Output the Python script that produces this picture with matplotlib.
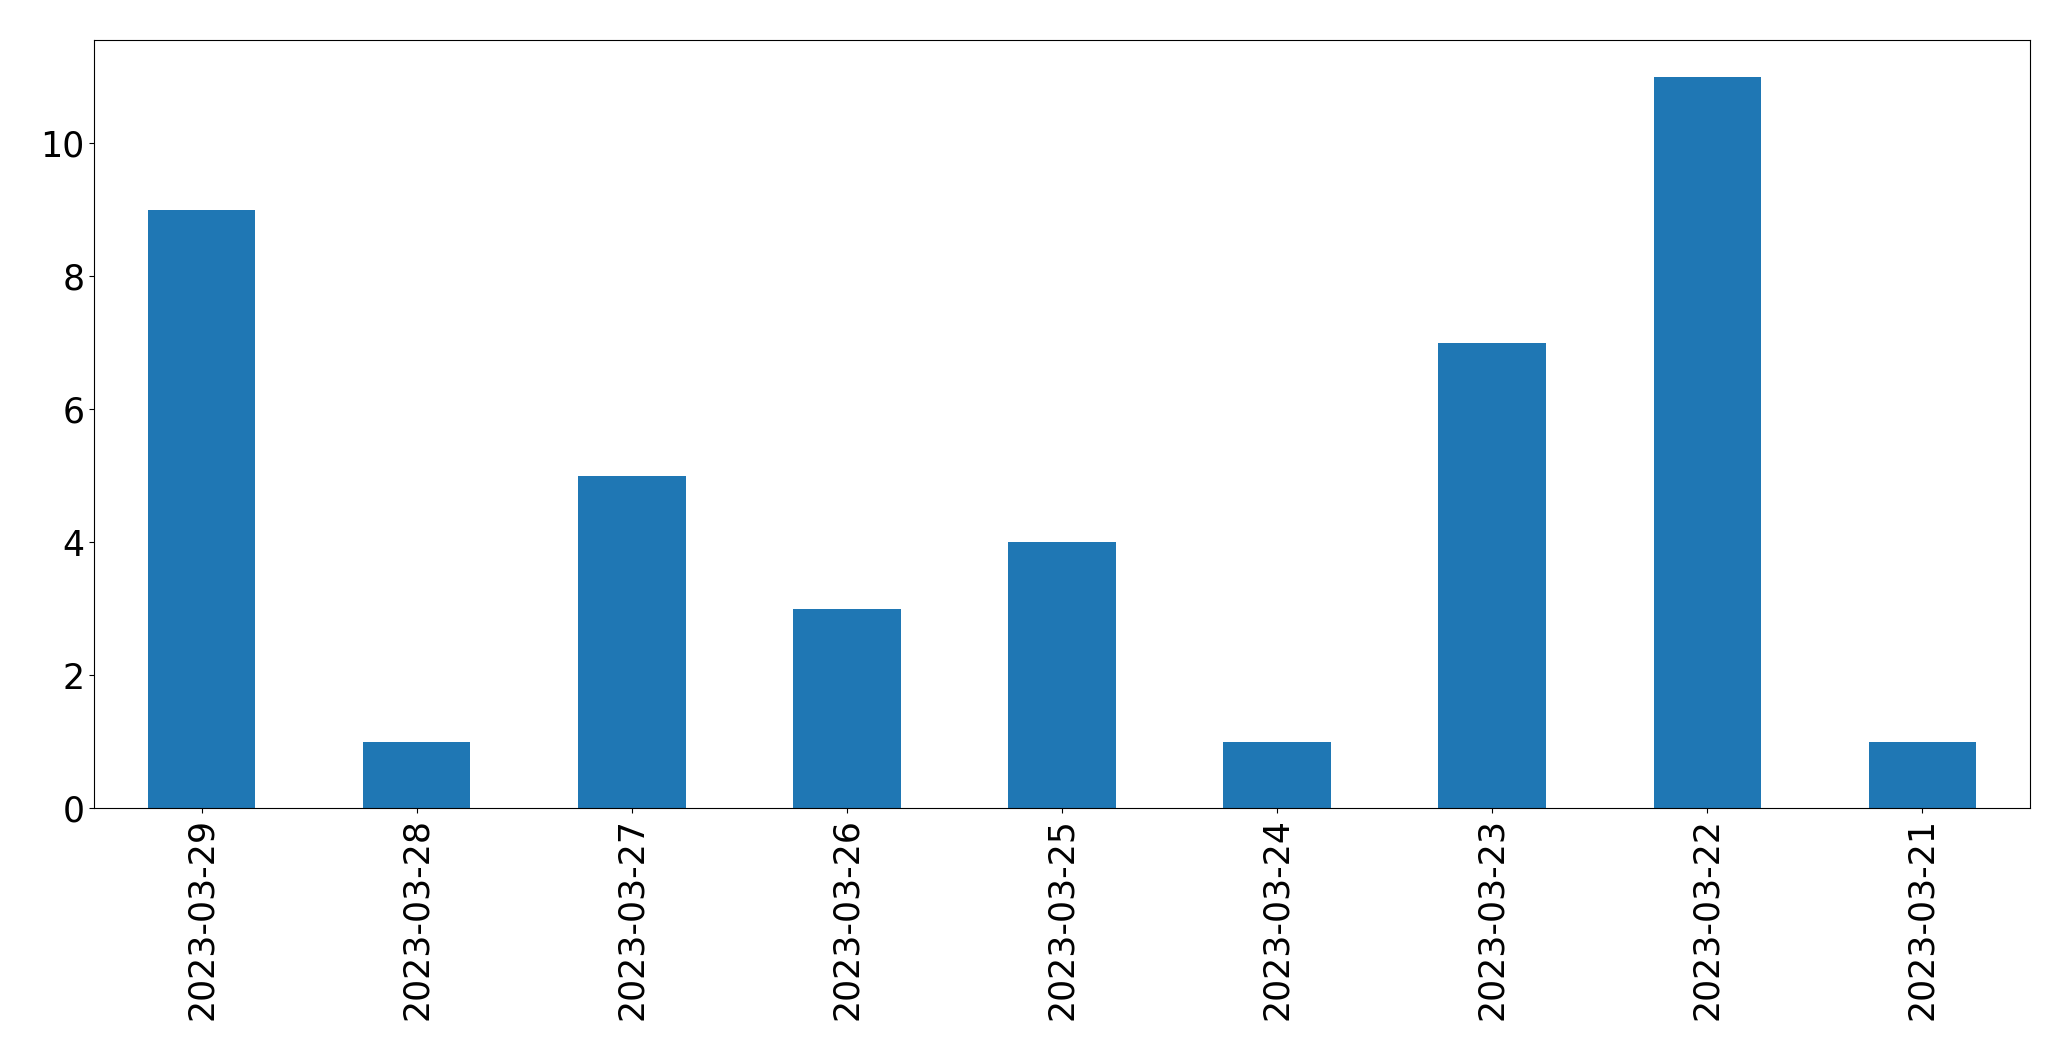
import matplotlib
matplotlib.use("Agg")
import matplotlib.pyplot as plt
import pandas as pd

dates = ["2023-03-29", "2023-03-28", "2023-03-27", "2023-03-26", "2023-03-25",
         "2023-03-24", "2023-03-23", "2023-03-22", "2023-03-21"]
counts = [9, 1, 5, 3, 4, 1, 7, 11, 1]

series = pd.Series(counts, index=dates)

fig, ax = plt.subplots(figsize=(20.71, 10.61), dpi=100)
series.plot.bar(ax=ax, color="#1f77b4", width=0.5)
ax.tick_params(axis="both", labelsize=25)
ax.set_yticks([0, 2, 4, 6, 8, 10])
fig.subplots_adjust(left=94 / 2071, right=2030 / 2071, top=1 - 40 / 1061, bottom=1 - 808 / 1061)
fig.savefig("out.png", dpi=100)
